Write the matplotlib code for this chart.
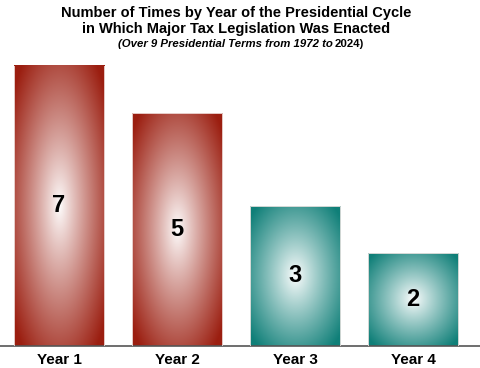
import numpy as np
import matplotlib
matplotlib.use("Agg")
import matplotlib.pyplot as plt
from matplotlib.colors import to_rgb

plt.rcParams['font.family'] = ['Liberation Sans', 'DejaVu Sans']

years = ['Year 1', 'Year 2', 'Year 3', 'Year 4']
counts = [7, 5, 3, 2]
bar_colors = ['#9b1e10', '#9b1e10', '#0f7f78', '#0f7f78']

fig = plt.figure(figsize=(4.8, 3.68), dpi=100)
ax = fig.add_axes([0.0, 0.0598, 1.0, 0.761])
ymax = 6
ax.set_xlim(-0.5, 3.568)
ax.set_ylim(0, ymax)

width = 0.763
xs = np.arange(len(years))
bars = ax.bar(xs, counts, width=width, facecolor='none', edgecolor='#f2e6e4', linewidth=0.6, zorder=3)

# radial white-centred gradient inside every bar
gx, gy = np.meshgrid(np.linspace(-1, 1, 200), np.linspace(-1, 1, 300))
r = np.sqrt(gx ** 2 + gy ** 2)
t = np.clip(r / 1.3, 0, 1) ** 0.9
for x, v, c, b in zip(xs, counts, bar_colors, bars):
    top = min(v, ymax)
    rgb = np.array(to_rgb(c))
    img = 1 - t[..., None] * (1 - rgb)
    im = ax.imshow(img, extent=[x - width / 2, x + width / 2, 0, top], origin='lower',
                   aspect='auto', zorder=2, interpolation='bilinear')
    im.set_clip_path(b)
    ax.text(x, top / 2, str(v), ha='center', va='center', fontsize=17,
            fontweight='bold', color='black', zorder=4)

ax.set_xticks(xs)
ax.set_xticklabels(years, fontsize=11, fontweight='bold')
ax.tick_params(axis='x', length=0, pad=5)
ax.set_yticks([])
for s in ['top', 'right', 'left']:
    ax.spines[s].set_visible(False)
ax.spines['bottom'].set_color('#555555')
ax.spines['bottom'].set_linewidth(1.2)

fig.text(0.492, 0.966, 'Number of Times by Year of the Presidential Cycle', ha='center', va='center',
         fontsize=10.5, fontweight='bold')
fig.text(0.492, 0.921, 'in Which Major Tax Legislation Was Enacted', ha='center', va='center',
         fontsize=10.5, fontweight='bold')
fig.text(0.694, 0.881, '(Over 9 Presidential Terms from 1972 to', ha='right', va='center',
         fontsize=8.2, fontweight='bold', style='italic')
fig.text(0.697, 0.881, '2024)', ha='left', va='center', fontsize=8.2, fontweight='bold')

fig.savefig('out.png', dpi=100)
